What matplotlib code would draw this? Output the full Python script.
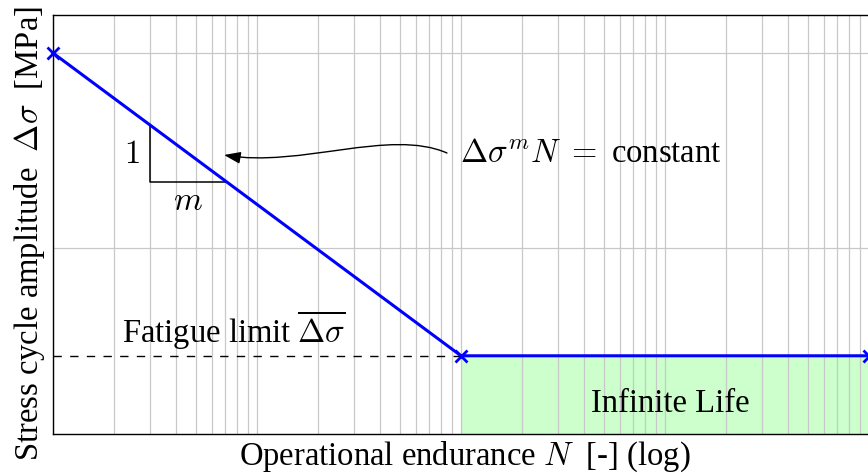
import numpy as np
import matplotlib
matplotlib.use("Agg")
from matplotlib import pyplot as plt
from matplotlib.ticker import LogLocator
from matplotlib.patches import FancyArrowPatch
from matplotlib.path import Path

plt.rcParams['font.family'] = ['Liberation Serif', 'DejaVu Serif']
plt.rcParams['mathtext.fontset'] = 'cm'
plt.rcParams['font.size'] = 23.5

########################## S-N CURVE DATA
cycles = [1e3, 1e5, 1e7]          # N at start, knee, end
stress = [1000.0, 28.0, 28.0]     # stress amplitude at those points
fatigue_limit = 28.0
slope_n = [3000.0, 7100.0]        # ends of the slope triangle

# exponent of the sloped part (log-log)
k = np.log(stress[1] / stress[0]) / np.log(cycles[1] / cycles[0])
def sn_stress(n):
    return stress[0] * (np.asarray(n) / cycles[0]) ** k

########################## FIGURE
fig = plt.figure(figsize=(8.68, 4.73), dpi=100)
ax = fig.add_axes([53/868, 39/473, 816/868, 419/473])
ax.set_xscale('log')
ax.set_yscale('log')
ax.set_xlim(cycles[0], cycles[2])
ax.set_ylim(10**1.046, 10**3.195)

ax.xaxis.set_minor_locator(LogLocator(base=10, subs=np.arange(2, 10), numticks=100))
ax.grid(True, which='both', axis='x', color='#c8c8c8', lw=0.9)
ax.grid(True, which='major', axis='y', color='#c8c8c8', lw=0.9)
ax.tick_params(which='both', length=0, labelleft=False, labelbottom=False)
for s in ax.spines.values():
    s.set_color('black')
    s.set_linewidth(1.0)

# infinite life region
ymin = ax.get_ylim()[0]
ax.fill_between([cycles[1], cycles[2]], ymin, fatigue_limit, color='#ccffcc', lw=0, zorder=1)

# fatigue limit guide
ax.plot([cycles[0], cycles[1]], [fatigue_limit, fatigue_limit], color='black', lw=1.0,
        ls=(0, (6, 6)), zorder=2)

# slope triangle
s1, s2 = sn_stress(slope_n)
ax.plot([slope_n[0], slope_n[0], slope_n[1]], [s1, s2, s2], color='black', lw=1.1, zorder=2)

# S-N curve
ax.plot(cycles, stress, color='blue', lw=2.2, marker='x', ms=9, mew=2.0, clip_on=False, zorder=4)

# labels inside the axes
ax.text(0.0968, 0.647, '$1$', transform=ax.transAxes, ha='center', va='baseline')
ax.text(0.165, 0.535, '$m$', transform=ax.transAxes, ha='center', va='baseline')
ax.text(0.0846, 0.217, r'Fatigue limit $\overline{\Delta\sigma}$', transform=ax.transAxes,
        ha='left', va='baseline')
ax.text(0.756, 0.0525, 'Infinite Life', transform=ax.transAxes, ha='center', va='baseline')
ax.text(0.499, 0.649, r'$\Delta\sigma^m N\ =$ constant', transform=ax.transAxes,
        ha='left', va='baseline')

# curved arrow pointing at the sloped line
arrow_path = Path([(0.4828, 0.6706), (0.4130, 0.7303), (0.3027, 0.6348), (0.2096, 0.6659)],
                  [Path.MOVETO, Path.CURVE4, Path.CURVE4, Path.CURVE4])
arrow = FancyArrowPatch(path=arrow_path, transform=ax.transAxes,
                        arrowstyle='-|>,head_length=1.0,head_width=0.36',
                        mutation_scale=10, color='black', lw=1.0, zorder=5)
ax.add_patch(arrow)

# axis titles
fig.text(465/868, 8.5/473, r'Operational endurance $N$  [-] (log)', ha='center', va='baseline')
fig.text(38/868, 1 - 234/473, r'Stress cycle amplitude  $\Delta\sigma$  [MPa]', rotation=90,
         rotation_mode='anchor', ha='center', va='baseline')

plt.savefig('out.png', dpi=100)
plt.close()
